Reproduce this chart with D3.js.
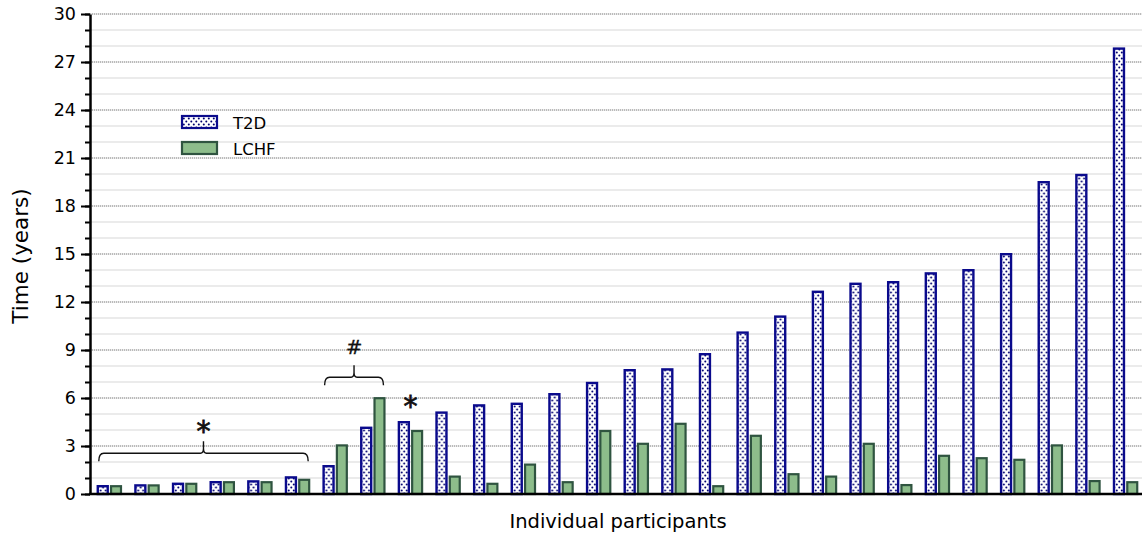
<!DOCTYPE html>
<html>
<head>
<meta charset="utf-8">
<script src="https://cdn.jsdelivr.net/npm/d3@7"></script>
<style>
  html, body { margin: 0; padding: 0; background: #fff; }
  svg { display: block; font-family: "DejaVu Sans", sans-serif; }
</style>
</head>
<body>
<svg id="chart" width="1142" height="535"></svg>
<script>
// Participants, ordered by years since T2D diagnosis
const participants = d3.range(1, 29).map(i => "P" + i);
const t2dYears  = [0.55, 0.6, 0.7, 0.8, 0.85, 1.1, 1.8, 4.2, 4.55, 5.15, 5.6, 5.7, 6.3, 7.0, 7.8, 7.85, 8.8, 10.15, 11.15, 12.7, 13.2, 13.3, 13.85, 14.05, 15.05, 19.55, 20.0, 27.9];
const lchfYears = [0.55, 0.6, 0.7, 0.8, 0.8, 0.95, 3.1, 6.05, 4.0, 1.15, 0.7, 1.9, 0.8, 4.0, 3.2, 4.45, 0.55, 3.7, 1.3, 1.15, 3.2, 0.62, 2.45, 2.3, 2.2, 3.1, 0.87, 0.8];
const seriesNames = ["T2D", "LCHF"];
const majorTicks = d3.range(0, 31, 3);
const minorTicks = d3.range(0, 31, 1);

// Significance markers: [first participant, last participant, bracket level, symbol]
const brackets = [
  { from: 0, to: 5, level: 2.55, symbol: "*" },
  { from: 6, to: 7, level: 7.3, symbol: "#" }
];
const singleMarks = [{ at: 8, value: 5.9, symbol: "*" }];

const svg = d3.select("#chart");
const plotLeft = 90, plotRight = 1145, plotTop = 14, plotBottom = 494;

const x = d3.scaleBand().domain(participants).range([plotLeft, plotRight])
  .paddingInner(0.33).paddingOuter(0.18);
const xs = d3.scaleBand().domain(seriesNames).range([0, x.bandwidth()]).paddingInner(0.1);
const y = d3.scaleLinear().domain([0, 30]).range([plotBottom, plotTop]);

// Dotted fill for the T2D bars
const defs = svg.append("defs");
const pat = defs.append("pattern").attr("id", "dots")
  .attr("patternUnits", "userSpaceOnUse").attr("width", 5).attr("height", 6);
pat.append("rect").attr("width", 5).attr("height", 6).attr("fill", "#fff");
pat.append("circle").attr("cx", 1.3).attr("cy", 1.5).attr("r", 1).attr("fill", "#00006e");
pat.append("circle").attr("cx", 3.8).attr("cy", 4.5).attr("r", 1).attr("fill", "#00006e");

// Grid: light lines every year, dotted lines every 3 years
svg.append("g").selectAll("line").data(minorTicks.filter(d => d > 0)).join("line")
  .attr("x1", plotLeft).attr("x2", 1142)
  .attr("y1", d => y(d)).attr("y2", d => y(d))
  .attr("stroke", "#e4e4e4").attr("stroke-width", 1.5);
svg.append("g").selectAll("line").data(majorTicks.filter(d => d > 0)).join("line")
  .attr("x1", plotLeft).attr("x2", 1142)
  .attr("y1", d => y(d)).attr("y2", d => y(d))
  .attr("stroke", "#8a8a8a").attr("stroke-width", 1).attr("stroke-dasharray", "1,1");

// Bars
const groups = svg.append("g").selectAll("g").data(participants).join("g")
  .attr("transform", d => `translate(${x(d)},0)`);
groups.append("rect")
  .attr("x", xs("T2D") + 1).attr("width", xs.bandwidth() - 2)
  .attr("y", (d, i) => y(t2dYears[i]) + 1)
  .attr("height", (d, i) => y(0) - y(t2dYears[i]) - 1)
  .attr("fill", "url(#dots)").attr("stroke", "#0a0a8c").attr("stroke-width", 2.4);
groups.append("rect")
  .attr("x", xs("LCHF") + 1).attr("width", xs.bandwidth() - 2)
  .attr("y", (d, i) => y(lchfYears[i]) + 1)
  .attr("height", (d, i) => y(0) - y(lchfYears[i]) - 1)
  .attr("fill", "#8dbd8b").attr("stroke", "#2f5440").attr("stroke-width", 2.2);

// Axes
const yAxisMinor = svg.append("g").attr("transform", `translate(${plotLeft},0)`)
  .call(d3.axisLeft(y).tickValues(minorTicks).tickSize(5).tickFormat(""));
yAxisMinor.select(".domain").remove();
yAxisMinor.selectAll("line").attr("stroke", "#000").attr("stroke-width", 2);

const yAxis = svg.append("g").attr("transform", `translate(${plotLeft},0)`)
  .call(d3.axisLeft(y).tickValues(majorTicks).tickSize(9).tickPadding(5).tickSizeOuter(0));
yAxis.select(".domain").attr("stroke", "#000").attr("stroke-width", 2.5);
yAxis.selectAll("line").attr("stroke", "#000").attr("stroke-width", 2);
yAxis.selectAll("text").attr("font-size", 17.5).attr("fill", "#000")
  .attr("font-family", "DejaVu Sans, sans-serif");

svg.append("line").attr("x1", plotLeft - 1).attr("x2", 1142)
  .attr("y1", plotBottom).attr("y2", plotBottom).attr("stroke", "#000").attr("stroke-width", 2.5);

// Axis titles
svg.append("text").attr("transform", `translate(28,256) rotate(-90)`)
  .attr("text-anchor", "middle").attr("font-size", 21.5).attr("fill", "#000").text("Time (years)");
svg.append("text").attr("x", 618).attr("y", 528)
  .attr("text-anchor", "middle").attr("font-size", 19.5).attr("fill", "#000").text("Individual participants");

// Legend
const legend = svg.append("g");
const legendItems = [
  { name: "T2D", fill: "url(#dots)", stroke: "#0a0a8c", yy: 115 },
  { name: "LCHF", fill: "#8dbd8b", stroke: "#2f5440", yy: 141 }
];
legendItems.forEach(it => {
  legend.append("rect").attr("x", 182).attr("y", it.yy + 1).attr("width", 35).attr("height", 12)
    .attr("fill", it.fill).attr("stroke", it.stroke).attr("stroke-width", 2.2);
  legend.append("text").attr("x", 233).attr("y", it.yy + 13.5)
    .attr("font-size", 16.5).attr("fill", "#000").text(it.name);
});

// Significance brackets
const ann = svg.append("g").attr("fill", "none").attr("stroke", "#111").attr("stroke-width", 1.4);
brackets.forEach(b => {
  const x0 = x(participants[b.from]) + 2;
  const x1 = x(participants[b.to]) + x.bandwidth() - 2;
  const xm = (x0 + x1) / 2;
  const yl = y(b.level);
  const r = 3;
  const p = d3.path();
  p.moveTo(x0, yl + 8);
  p.quadraticCurveTo(x0, yl, x0 + r + 2, yl);
  p.lineTo(xm - 3, yl);
  p.quadraticCurveTo(xm, yl, xm, yl - 5);
  p.lineTo(xm, yl - 12);
  p.moveTo(xm, yl - 5);
  p.quadraticCurveTo(xm, yl, xm + 3, yl);
  p.lineTo(x1 - r - 2, yl);
  p.quadraticCurveTo(x1, yl, x1, yl + 8);
  ann.append("path").attr("d", p.toString());
  const isStar = b.symbol === "*";
  svg.append("text").attr("x", xm).attr("y", isStar ? yl - 12 : yl - 23)
    .attr("text-anchor", "middle").attr("fill", "#111")
    .attr("stroke", "#111").attr("stroke-width", isStar ? 0.8 : 0.3)
    .attr("font-size", isStar ? 28 : 20).text(b.symbol);
});
singleMarks.forEach(m => {
  svg.append("text").attr("x", x(participants[m.at]) + x.bandwidth() / 2).attr("y", y(m.value) + 16)
    .attr("text-anchor", "middle").attr("fill", "#111").attr("stroke", "#111").attr("stroke-width", 0.8)
    .attr("font-size", 28).text(m.symbol);
});
</script>
</body>
</html>
